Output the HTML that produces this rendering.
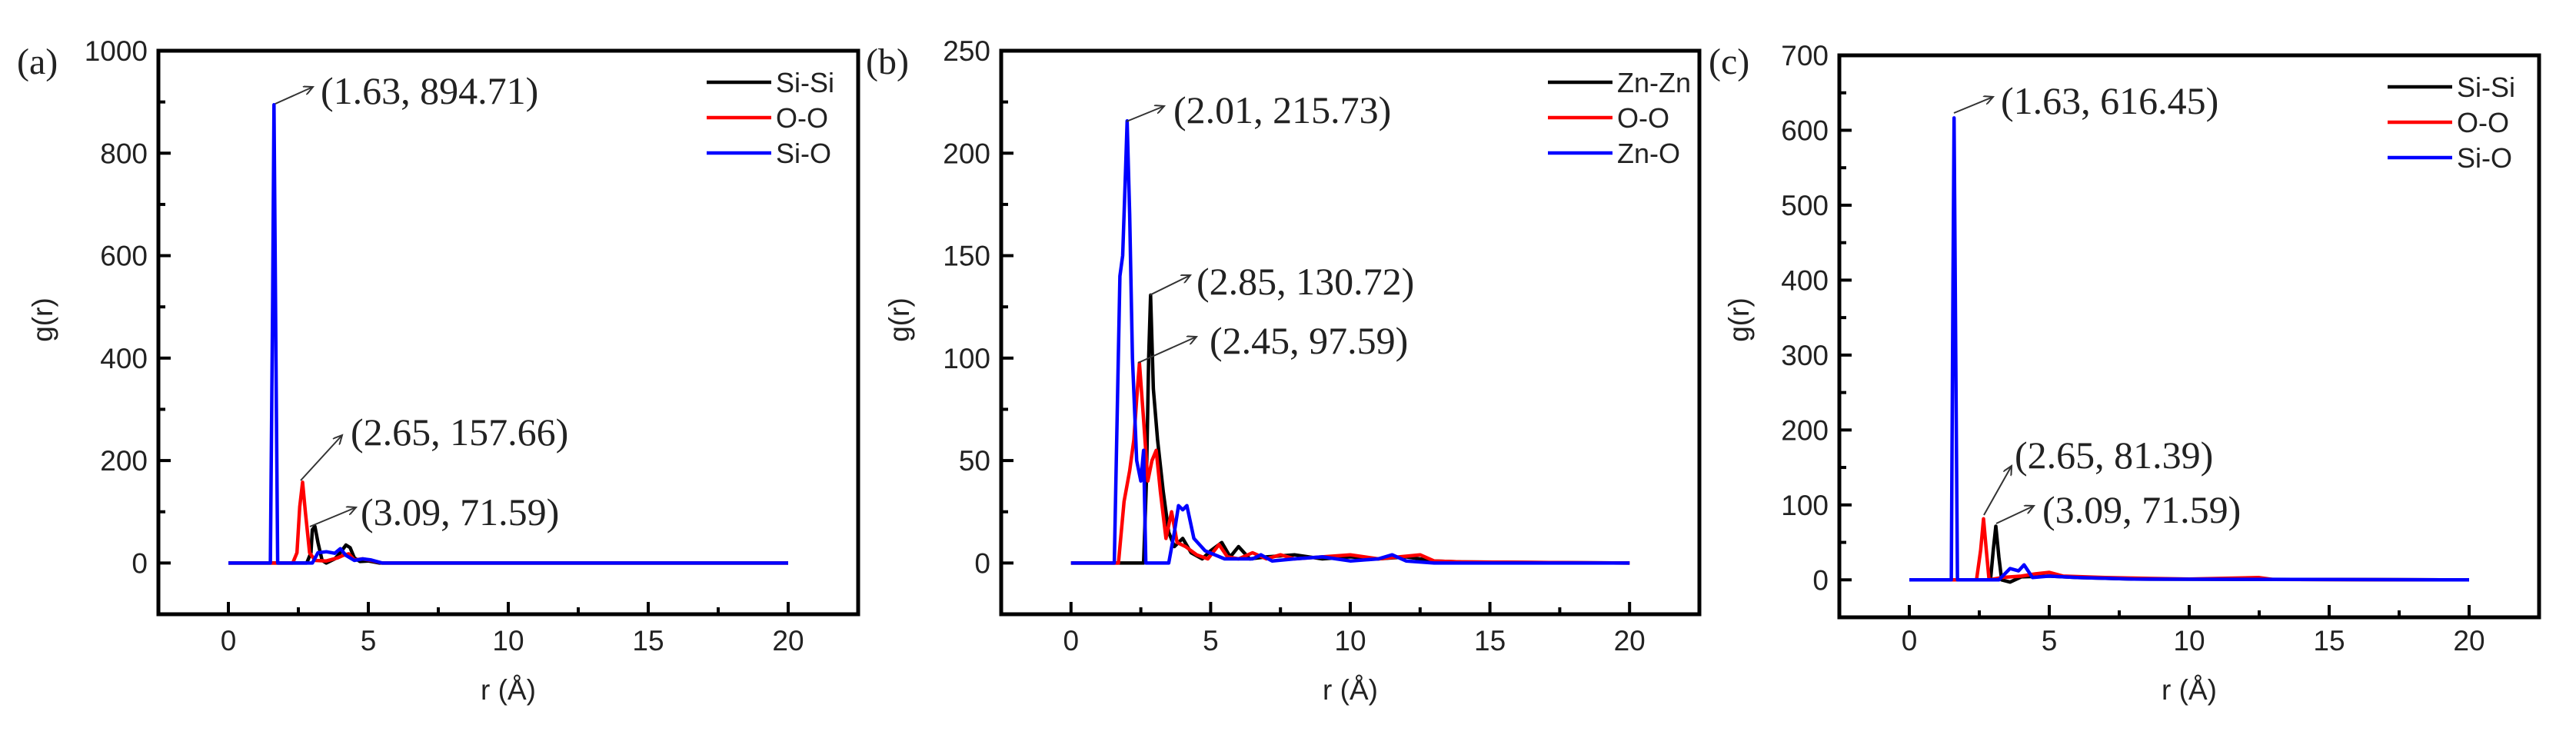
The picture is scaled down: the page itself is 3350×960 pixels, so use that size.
<!DOCTYPE html>
<html><head><meta charset="utf-8"><style>
html,body{margin:0;padding:0;background:#fff;}
svg{display:block;}
</style></head><body>
<svg id="fig" width="3350" height="960" viewBox="0 0 3350 960" xmlns="http://www.w3.org/2000/svg">
<rect width="3350" height="960" fill="#fff"/>
<defs><marker id="ah" markerWidth="14" markerHeight="12" refX="12" refY="6" orient="auto" markerUnits="userSpaceOnUse"><path d="M0,0 L12,6 L0,12" fill="none" stroke="#333" stroke-width="2"/></marker></defs>
</svg>
<script>
// ---- Panel (a) data ----
const aSiSiR = [0,2.8,2.95,3.0,3.09,3.2,3.35,3.5,3.8,4.0,4.2,4.35,4.5,4.7,5.0,5.4,20];
const aSiSiG = [0,0,20,65,71.59,40,5,0,8,20,35,30,10,3,4,0,0];
const aOOR = [0,2.3,2.45,2.55,2.65,2.75,2.9,3.1,3.5,3.9,4.1,4.3,4.5,4.8,5.1,5.5,20];
const aOOG = [0,0,20,110,157.66,100,20,5,4,10,15,18,6,8,5,0,0];
const aSiOR = [0,1.5,1.58,1.63,1.7,1.76,3.0,3.2,3.5,3.8,4.0,4.2,4.5,4.8,5.1,5.5,20];
const aSiOG = [0,0,500,894.71,400,0,0,20,22,19,28,15,5,8,6,0,0];
// ---- Panel (b) data ----
const bZnZnR = [0,2.6,2.7,2.78,2.85,2.95,3.1,3.3,3.5,3.7,4.0,4.3,4.7,5.0,5.4,5.7,6.0,6.4,7.0,8.0,9.0,10.0,11.0,12.0,13.0,14,20];
const bZnZnG = [0,0,40,100,130.72,85,60,35,15,8,12,5,2,6,10,3,8,2,3,4,2,3,2,3,1,0.5,0];
const bOOR = [0,1.7,1.9,2.1,2.25,2.35,2.45,2.6,2.75,2.9,3.05,3.2,3.4,3.6,3.8,4.1,4.5,4.9,5.3,5.6,6.0,6.5,7.0,7.5,8.0,9.0,10.0,11.0,12.5,13.0,14.0,20];
const bOOG = [0,0,30,45,60,80,97.59,70,40,50,55,35,12,25,10,8,4,2,9,3,2,5,2,4,2,3,4,2,4,1,0.5,0];
const bZnOR = [0,1.55,1.75,1.85,1.95,2.01,2.1,2.2,2.35,2.5,2.6,2.68,3.5,3.7,3.85,4.0,4.15,4.4,4.8,5.5,6.5,6.8,7.2,8.0,9.0,10.0,11.0,11.5,12.0,13.0,20];
const bZnOG = [0,0,140,150,190,215.73,170,100,50,40,55,0,0,15,28,26,28,12,6,2,2,4,1,2,3,1,2,4,1,0,0];
// ---- Panel (c) data ----
const cSiSiR = [0,2.9,3.0,3.09,3.2,3.3,3.6,4.0,5.0,6.0,8.0,20];
const cSiSiG = [0,0,40,71.59,30,0,-3,4,5,3,1,0];
const cOOR = [0,2.4,2.55,2.65,2.75,2.85,3.3,4.0,4.5,5.0,5.5,7.0,10,12.5,13,20];
const cOOG = [0,0,40,81.39,40,0,3,5,8,10,5,3,1,3,0.5,0];
const cSiOR = [0,1.5,1.56,1.6,1.66,1.72,3.2,3.6,3.9,4.1,4.4,5.0,6.0,8.0,20];
const cSiOG = [0,0,400,616.45,300,0,0,15,12,20,3,5,3,1,0];
// tick labels
const aYTicks = [0,200,400,600,800,1000];
const bYTicks = [0,50,100,150,200,250];
const cYTicks = [0,100,200,300,400,500,600,700];
const xTicks = [0,5,10,15,20];

const NS = "http://www.w3.org/2000/svg";
const svg = document.getElementById('fig');
function mk(tag, attrs, parent){const e=document.createElementNS(NS,tag);for(const k in attrs)e.setAttribute(k,attrs[k]);(parent||svg).appendChild(e);return e;}

const panels = [
 {id:'a', label:'(a)', lx:22, left:206, right:1116, top:66, bottom:799, ymin:-100, ymax:1000, yticks:aYTicks, yminor:100, ytitleX:56,
  series:[['Si-Si','#000',aSiSiR,aSiSiG],['O-O','#ff0000',aOOR,aOOG],['Si-O','#0000ff',aSiOR,aSiOG]],
  ann:[['(1.63, 894.71)',358,135,407,113,417,119],['(2.65, 157.66)',391,625,445,566,456,563],['(3.09, 71.59)',403,685,463,660,469,667]]},
 {id:'b', label:'(b)', lx:1126, left:1302, right:2210, top:66, bottom:799, ymin:-25, ymax:250, yticks:bYTicks, yminor:25, ytitleX:1170,
  series:[['Zn-Zn','#000',bZnZnR,bZnZnG],['O-O','#ff0000',bOOR,bOOG],['Zn-O','#0000ff',bZnOR,bZnOG]],
  ann:[['(2.01, 215.73)',1465,158,1514,138,1526,144],['(2.85, 130.72)',1495,384,1548,358,1556,367],['(2.45, 97.59)',1480,472,1556,438,1573,444]]},
 {id:'c', label:'(c)', lx:2222, left:2392, right:3302, top:72, bottom:803, ymin:-50, ymax:700, yticks:cYTicks, yminor:50, ytitleX:2262,
  series:[['Si-Si','#000',cSiSiR,cSiSiG],['O-O','#ff0000',cOOR,cOOG],['Si-O','#0000ff',cSiOR,cSiOG]],
  ann:[['(1.63, 616.45)',2541,147,2592,126,2602,132],['(2.65, 81.39)',2580,670,2616,606,2620,593],['(3.09, 71.59)',2596,681,2645,658,2656,664]]}
];

panels.forEach(p=>{
  const g = mk('g',{});
  
  
  const xmin=-2.5, xmax=22.5;
  const X = v => p.left + (v-xmin)/(xmax-xmin)*(p.right-p.left);
  const Y = v => p.bottom - (v-p.ymin)/(p.ymax-p.ymin)*(p.bottom-p.top);
  p.series.forEach(s=>{
    const d = s[2].map((r,i)=>(i?'L':'M')+X(r).toFixed(1)+','+Y(s[3][i]).toFixed(1)).join(' ');
    const path = mk('path',{d:d,fill:'none',stroke:s[1],'stroke-width':4.5,'stroke-linejoin':'round'},g);
    
    
  });
  const fr = mk('rect',{x:p.left,y:p.top,width:p.right-p.left,height:p.bottom-p.top,fill:'none',stroke:'#000','stroke-width':5},g);
  
  
  p.yticks.forEach(t=>{
    mk('line',{x1:p.left,x2:p.left+16,y1:Y(t),y2:Y(t),stroke:'#000','stroke-width':4},g);
    const lb = mk('text',{x:p.left-14,y:Y(t)+13,'text-anchor':'end','font-family':'Liberation Sans, sans-serif','font-size':37,fill:'#222'},g);
    lb.textContent=t;
    
    
  });
  for(let v=p.ymin+p.yminor; v<p.ymax; v+=p.yminor){
    if(p.yticks.indexOf(v)<0) mk('line',{x1:p.left,x2:p.left+9,y1:Y(v),y2:Y(v),stroke:'#000','stroke-width':4},g);
  }
  xTicks.forEach(t=>{
    mk('line',{x1:X(t),x2:X(t),y1:p.bottom,y2:p.bottom-16,stroke:'#000','stroke-width':4},g);
    const lb = mk('text',{x:X(t),y:846,'text-anchor':'middle','font-family':'Liberation Sans, sans-serif','font-size':37,fill:'#222'},g);
    lb.textContent=t;
    
    
  });
  [2.5,7.5,12.5,17.5].forEach(t=>mk('line',{x1:X(t),x2:X(t),y1:p.bottom,y2:p.bottom-9,stroke:'#000','stroke-width':4},g));
  const xt = mk('text',{x:(X(0)+X(20))/2,y:910,'text-anchor':'middle','font-family':'Liberation Sans, sans-serif','font-size':37,fill:'#222'},g);
  xt.textContent='r (Å)';
  
  
  const yt = mk('text',{x:0,y:0,'text-anchor':'middle','font-family':'Liberation Sans, sans-serif','font-size':37,fill:'#222',transform:'translate('+(p.ytitleX+12)+',416) rotate(-90)'},g);
  yt.textContent='g(r)';
  
  
  const pl = mk('text',{x:p.lx,y:96,'font-family':'Liberation Serif, serif','font-size':48,fill:'#222'},g);
  pl.textContent=p.label;
  
  
  p.series.forEach((s,i)=>{
    const ly = p.top + 41 + i*46;
    const lx1 = p.right - 197, lx2 = p.right - 113;
    const ll = mk('line',{x1:lx1,x2:lx2,y1:ly,y2:ly,stroke:s[1],'stroke-width':4.5},g);
    
    
    const lt = mk('text',{x:lx2+6,y:ly+13,'font-family':'Liberation Sans, sans-serif','font-size':36,fill:'#222'},g);
    lt.textContent=s[0];
    
    
  });
  p.ann.forEach(a=>{
    const ar = mk('line',{x1:a[1],y1:a[2],x2:a[3],y2:a[4],stroke:'#333','stroke-width':2,'marker-end':'url(#ah)'},g);
    
    
    const at = mk('text',{x:a[5],y:a[6]+16,'font-family':'Liberation Serif, serif','font-size':50,fill:'#222'},g);
    at.textContent=a[0];
    
    
  });
});
</script>
</body></html>
